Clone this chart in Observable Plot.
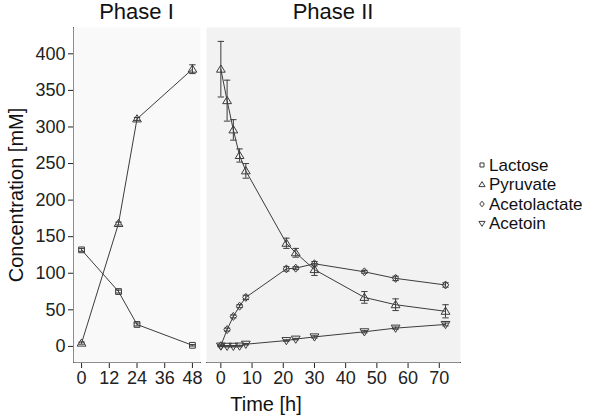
<!DOCTYPE html>
<html><head><meta charset="utf-8">
<script src="https://cdn.jsdelivr.net/npm/d3@7"></script>
<script src="https://cdn.jsdelivr.net/npm/@observablehq/plot@0.6"></script>
<style>
body{margin:0;background:#fff;font-family:"Liberation Sans",Arial,sans-serif;color:#111;}
#wrap{position:relative;width:598px;height:417px;overflow:hidden;}
.abs{position:absolute;white-space:nowrap;line-height:1;}
</style></head><body><div id="wrap"></div>
<script>
// ---- data ----
const series = ["Lactose", "Pyruvate", "Acetolactate", "Acetoin"];
const phaseTitles = ["Phase I", "Phase II"];
const p1Time = [0, 16, 24, 48];
const p1Lactose = [132, 75, 30, 1.5];
const p1LactoseErr = [2, 2, 2, 1];
const p1Pyruvate = [4.5, 168, 311, 379];
const p1PyruvateErr = [1.5, 2, 2, 6];
const p2Time = [0, 2, 4, 6, 8, 21, 24, 30, 46, 56, 72];
const p2Pyruvate = [379, 336, 296, 261, 240, 141, 128, 105, 67, 57, 48];
const p2PyruvateErr = [38, 28, 14, 9, 10, 7, 6, 8, 8, 8, 9];
const p2Acetolactate = [1, 23, 41, 55, 67, 106, 107, 113, 102, 93, 84];
const p2AcetolactateErr = [1, 2, 2, 2, 3, 3, 2, 3, 2, 3, 3];
const p2Acetoin = [0.5, 0.2, 0.2, 0.5, 3, 8, 10, 13, 20, 25, 30];
const p2AcetoinErr = [1, 1, 1, 1, 1, 1, 1, 1.5, 1.5, 1.5, 2];
const yTicks = [0, 50, 100, 150, 200, 250, 300, 350, 400];
const p1Ticks = [0, 12, 24, 36, 48];
const p2Ticks = [0, 10, 20, 30, 40, 50, 60, 70];
const yLabel = "Concentration [mM]";
const xLabel = "Time [h]";

// ---- symbols ----
const rad = s => Math.sqrt(s / Math.PI);
const symSquare = {draw(c, s){const r = rad(s)*0.72; c.rect(-r, -r, 2*r, 2*r);}};
const symTri = {draw(c, s){const r = rad(s); c.moveTo(0, -r*1.05); c.lineTo(r*1.1, r*0.75); c.lineTo(-r*1.1, r*0.75); c.closePath();}};
const symTriDown = {draw(c, s){const r = rad(s); c.moveTo(0, r*1.05); c.lineTo(r*1.1, -r*0.75); c.lineTo(-r*1.1, -r*0.75); c.closePath();}};
const symDiamond = {draw(c, s){const r = rad(s); c.moveTo(0, -r); c.lineTo(r*0.8, 0); c.lineTo(0, r); c.lineTo(-r*0.8, 0); c.closePath();}};
const symCap = {draw(c, s){const r = rad(s); c.moveTo(-r, 0); c.lineTo(r, 0);}};
const symbolOf = {Lactose: symSquare, Pyruvate: symTri, Acetolactate: symDiamond, Acetoin: symTriDown};

const ink = "#3c3c3c";
const yDomain = [-22, 436];

function rows(time, vals, errs, s) {
  return time.map((t, i) => ({t, v: vals[i], e: errs[i], s}));
}
const p1 = [
  ...rows(p1Time, p1Lactose, p1LactoseErr, "Lactose"),
  ...rows(p1Time, p1Pyruvate, p1PyruvateErr, "Pyruvate")
];
const p2 = [
  ...rows(p2Time, p2Pyruvate, p2PyruvateErr, "Pyruvate"),
  ...rows(p2Time, p2Acetolactate, p2AcetolactateErr, "Acetolactate"),
  ...rows(p2Time, p2Acetoin, p2AcetoinErr, "Acetoin")
];

function marks(data, bg) {
  const out = [
    Plot.frame({fill: bg, stroke: null}),
    Plot.line(data, {x: "t", y: "v", z: "s", stroke: ink, strokeWidth: 1})
  ];
  out.push(Plot.ruleX(data, {x: "t", y1: d => d.v - d.e, y2: d => d.v + d.e, stroke: ink, strokeWidth: 1}));
  out.push(Plot.dot(data, {x: "t", y: d => d.v + d.e, symbol: symCap, r: 3.2, stroke: ink, strokeWidth: 1}));
  out.push(Plot.dot(data, {x: "t", y: d => d.v - d.e, symbol: symCap, r: 3.2, stroke: ink, strokeWidth: 1}));
  for (const s of series) {
    const sub = data.filter(d => d.s === s);
    if (!sub.length) continue;
    out.push(Plot.dot(sub, {x: "t", y: "v", symbol: symbolOf[s], r: 4, fill: "none", stroke: ink, strokeWidth: 1}));
  }
  return out;
}

const style = {fontSize: "18px", fontFamily: "'Liberation Sans', Arial, sans-serif", color: "#222", background: "transparent", overflow: "visible"};

const plot1 = Plot.plot({
  width: 205, height: 417,
  marginLeft: 73, marginRight: 5, marginTop: 27, marginBottom: 55,
  style,
  x: {domain: [-3.5, 51.5], ticks: p1Ticks, tickFormat: d => String(d), tickSize: 6, tickPadding: 3, line: true, label: null},
  y: {domain: yDomain, ticks: yTicks, tickFormat: d => String(d), tickSize: 5, tickPadding: 3, line: true, label: null},
  marks: marks(p1, "#f9f9f9")
});
const plot2 = Plot.plot({
  width: 270, height: 417,
  marginLeft: 6, marginRight: 10, marginTop: 27, marginBottom: 55,
  style,
  x: {domain: [-4.6, 76.8], ticks: p2Ticks, tickFormat: d => String(d), tickSize: 6, tickPadding: 3, line: true, label: null},
  y: {domain: yDomain, axis: null},
  marks: marks(p2, "#f2f2f2")
});

const wrap = document.getElementById("wrap");
function place(el, left, top) { el.style.position = "absolute"; el.style.left = left + "px"; el.style.top = top + "px"; wrap.appendChild(el); }
place(plot1, 0, 0);
place(plot2, 200, 0);

function label(text, cx, cy, size, rotate) {
  const d = document.createElement("div");
  d.className = "abs";
  d.textContent = text;
  d.style.fontSize = size + "px";
  d.style.left = cx + "px";
  d.style.top = cy + "px";
  d.style.transform = "translate(-50%,-50%)" + (rotate ? " rotate(-90deg)" : "");
  wrap.appendChild(d);
}
label(phaseTitles[0], 136.5, 12, 22);
label(phaseTitles[1], 333, 12, 22);
label(yLabel, 16, 195, 20, true);
label(xLabel, 266, 404, 20);

// legend
const legY = [165, 184.5, 204, 223.5];
const leg = d3.create("svg").attr("width", 20).attr("height", 95)
  .style("position", "absolute").style("left", "472px").style("top", "150px");
series.forEach((s, i) => {
  leg.append("path").attr("transform", `translate(10,${legY[i] - 150})`)
    .attr("d", d3.symbol(symbolOf[s], Math.PI * 2.8 * 2.8)())
    .attr("fill", "none").attr("stroke", ink).attr("stroke-width", 1);
  const t = document.createElement("div");
  t.className = "abs"; t.textContent = s; t.style.fontSize = "17px";
  t.style.left = "489px"; t.style.top = (legY[i] - 8.5) + "px";
  wrap.appendChild(t);
});
wrap.appendChild(leg.node());
</script></body></html>
